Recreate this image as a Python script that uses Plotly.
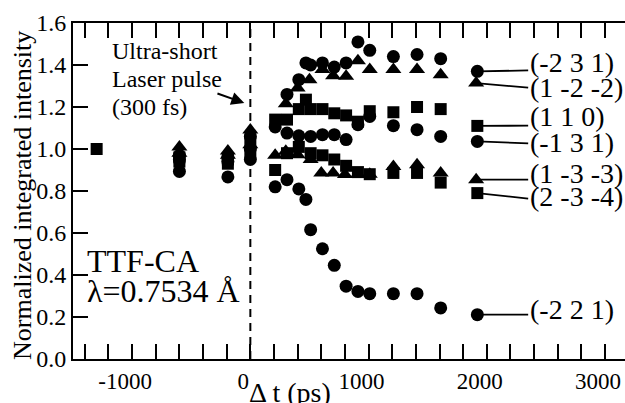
import plotly.graph_objects as go

# ---- data ----
t_m231 = [-600, -190, 0, 310, 410, 470, 510, 610, 710, 810, 910, 1010, 1210, 1410, 1610, 1920]
v_m231 = [0.97, 0.96, 1.06, 1.26, 1.33, 1.41, 1.40, 1.41, 1.39, 1.41, 1.51, 1.47, 1.44, 1.45, 1.43, 1.37]

t_1m2m2 = [-600, -190, 0, 300, 400, 500, 610, 700, 810, 910, 1010, 1210, 1410, 1610, 1910]
v_1m2m2 = [1.01, 0.99, 1.09, 1.216, 1.29, 1.33, 1.378, 1.349, 1.346, 1.42, 1.378, 1.378, 1.378, 1.354, 1.314]

t_110 = [-1300, -600, -190, 0, 210, 310, 410, 470, 510, 610, 710, 810, 910, 1010, 1210, 1410, 1610, 1920]
v_110 = [1.00, 0.96, 0.95, 1.03, 1.14, 1.14, 1.19, 1.235, 1.19, 1.19, 1.17, 1.16, 1.13, 1.18, 1.175, 1.20, 1.19, 1.11]

t_m131 = [-600, -190, 0, 210, 310, 410, 510, 610, 710, 810, 910, 1010, 1210, 1410, 1610, 1920]
v_m131 = [0.95, 0.94, 1.00, 1.105, 1.076, 1.063, 1.06, 1.068, 1.068, 1.045, 1.116, 1.155, 1.111, 1.092, 1.06, 1.036]

t_1m3m3 = [-600, -190, 0, 210, 300, 400, 510, 600, 700, 800, 910, 1010, 1210, 1410, 1610, 1910]
v_1m3m3 = [0.98, 0.97, 1.02, 0.97, 0.989, 0.973, 0.95, 0.886, 0.886, 0.878, 0.88, 0.88, 0.917, 0.925, 0.886, 0.854]

t_2m3m4 = [-600, -190, 0, 210, 310, 410, 510, 610, 710, 810, 910, 1010, 1210, 1410, 1610, 1920]
v_2m3m4 = [0.94, 0.93, 0.98, 0.90, 0.98, 1.01, 0.98, 0.97, 0.95, 0.92, 0.89, 0.88, 0.886, 0.886, 0.84, 0.79]

t_m221 = [-600, -190, 0, 210, 310, 410, 470, 510, 610, 710, 810, 910, 1010, 1210, 1410, 1610, 1920]
v_m221 = [0.893, 0.867, 0.95, 0.82, 0.854, 0.81, 0.76, 0.616, 0.525, 0.446, 0.347, 0.322, 0.311, 0.311, 0.311, 0.243, 0.211]

labels = ["(-2 3 1)", "(1 -2 -2)", "(1 1 0)", "(-1 3 1)", "(1 -3 -3)", "(2 -3 -4)", "(-2 2 1)"]
x_tickvals = [-1000, 0, 1000, 2000, 3000]
y_tickvals = [0.0, 0.2, 0.4, 0.6, 0.8, 1.0, 1.2, 1.4, 1.6]

series = [
    (t_m231, v_m231, "circle"),
    (t_1m2m2, v_1m2m2, "triangle-up"),
    (t_110, v_110, "square"),
    (t_m131, v_m131, "circle"),
    (t_1m3m3, v_1m3m3, "triangle-up"),
    (t_2m3m4, v_2m3m4, "square"),
    (t_m221, v_m221, "circle"),
]
# label placement (layout only)
label_line_y = [1.374, 1.292, 1.111, 1.027, 0.854, 0.764, 0.211]
label_text_y = [1.414, 1.292, 1.154, 1.032, 0.883, 0.776, 0.235]
LINE_END_X = 2350
TEXT_X = 2345

FONT = "Liberation Serif"
sizes = {"circle": 13, "triangle-up": 14, "square": 12}

fig = go.Figure()
for (t, v, sym), name in zip(series, labels):
    fig.add_trace(go.Scatter(
        x=t, y=v, mode="markers", name=name,
        marker=dict(symbol=sym, size=sizes[sym], color="black", line=dict(width=0)),
        showlegend=False, cliponaxis=False))

shapes = [dict(type="line", xref="x", yref="y", x0=0, x1=0, y0=0, y1=1.6,
               line=dict(color="black", width=2, dash="8px,6px"))]
annotations = []
for (t, v, sym), name, ly, ty in zip(series, labels, label_line_y, label_text_y):
    shapes.append(dict(type="line", xref="x", yref="y", x0=t[-1], y0=v[-1],
                       x1=LINE_END_X, y1=ly, line=dict(color="black", width=1.8)))
    annotations.append(dict(x=TEXT_X, y=ty, xref="x", yref="y", text=name,
                            showarrow=False, xanchor="left", yanchor="middle",
                            font=dict(family=FONT, size=28, color="black")))

annotations += [
    dict(x=-1395, y=0.469, xref="x", yref="y", text="TTF-CA", showarrow=False,
         xanchor="left", yanchor="middle", font=dict(family=FONT, size=32, color="black")),
    dict(x=-1395, y=0.326, xref="x", yref="y", text="\u03bb=0.7534 \u00c5", showarrow=False,
         xanchor="left", yanchor="middle", font=dict(family=FONT, size=32, color="black")),
    dict(x=-1190, y=1.467, xref="x", yref="y", text="Ultra-short", showarrow=False,
         xanchor="left", yanchor="middle", font=dict(family=FONT, size=24, color="black")),
    dict(x=-1190, y=1.333, xref="x", yref="y", text="Laser pulse", showarrow=False,
         xanchor="left", yanchor="middle", font=dict(family=FONT, size=24, color="black")),
    dict(x=-1190, y=1.199, xref="x", yref="y", text="(300 fs)", showarrow=False,
         xanchor="left", yanchor="middle", font=dict(family=FONT, size=24, color="black")),
    dict(x=-51, y=1.219, xref="x", yref="y", ax=-291, ay=1.267, axref="x", ayref="y",
         text="", showarrow=True, arrowhead=2, arrowsize=1.3, arrowwidth=2, arrowcolor="black"),
    dict(x=0.393, y=-0.10, xref="paper", yref="paper", text="\u0394 t (ps)", showarrow=False,
         xanchor="center", yanchor="middle", font=dict(family=FONT, size=28, color="black")),
    dict(x=-0.092, y=0.486, xref="paper", yref="paper", text="Normalized integrated intensity",
         showarrow=False, textangle=-90, xanchor="center", yanchor="middle",
         font=dict(family=FONT, size=26, color="black")),
]

fig.update_layout(
    width=625, height=403,
    margin=dict(l=73, r=0, t=23, b=44, autoexpand=False),
    paper_bgcolor="white", plot_bgcolor="white",
    font=dict(family=FONT, color="black"),
    shapes=shapes, annotations=annotations,
    xaxis=dict(range=[-1500, 3169], showline=True, linewidth=2, linecolor="black",
               mirror="ticks", ticks="inside", ticklen=15, tickwidth=2, tickcolor="black",
               tickvals=x_tickvals, ticktext=[str(v) for v in x_tickvals],
               automargin=False, ticklabeloverflow="allow", ticklabelshift=-7,
               tickfont=dict(family=FONT, size=23),
               minor=dict(dtick=200, tick0=0, ticks="inside", ticklen=15, tickwidth=2,
                          tickcolor="black"),
               showgrid=False, zeroline=False),
    yaxis=dict(range=[0, 1.6], showline=True, linewidth=2, linecolor="black",
               ticks="inside", ticklen=15, tickwidth=2, tickcolor="black",
               tickvals=y_tickvals, tickformat=".1f", automargin=False,
               ticklabeloverflow="allow",
               tickfont=dict(family=FONT, size=24),
               showgrid=False, zeroline=False),
)

# remove the default page margin so the 625x403 figure fills the window exactly
fig.write_html("out.html",
               config={"displayModeBar": False},
               post_script="document.body.style.margin='0';document.body.style.overflow='hidden';")
